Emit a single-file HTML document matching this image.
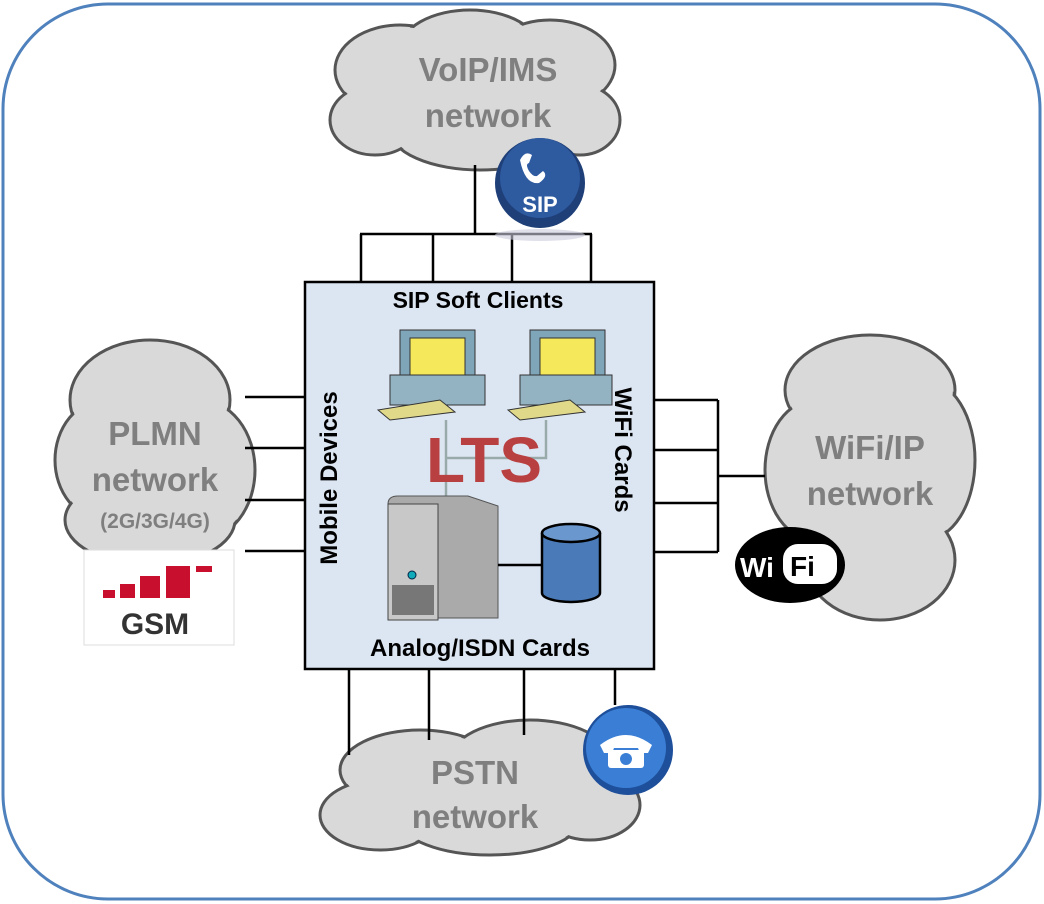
<!DOCTYPE html>
<html><head><style>
body{margin:0;background:#fff}
svg{display:block}
text{font-family:"Liberation Sans",sans-serif;font-weight:bold}
</style></head><body>
<svg width="1044" height="904" viewBox="0 0 1044 904" xmlns="http://www.w3.org/2000/svg">
<rect x="3" y="4" width="1037" height="895" rx="105" fill="#fff" stroke="#4f81bd" stroke-width="3"/>

<g stroke="#555" stroke-width="3" fill="#d9d9d9">
 <ellipse cx="400" cy="70" rx="65" ry="45"/><ellipse cx="470" cy="50" rx="70" ry="40"/><ellipse cx="550" cy="65" rx="65" ry="45"/><ellipse cx="580" cy="120" rx="40" ry="35"/><ellipse cx="480" cy="130" rx="90" ry="40"/><ellipse cx="375" cy="120" rx="45" ry="35"/>
 <ellipse cx="150" cy="400" rx="80" ry="60"/><ellipse cx="105" cy="460" rx="50" ry="60"/><ellipse cx="200" cy="470" rx="55" ry="70"/><ellipse cx="150" cy="520" rx="85" ry="45"/>
 <ellipse cx="870" cy="390" rx="85" ry="55"/><ellipse cx="815" cy="470" rx="50" ry="70"/><ellipse cx="925" cy="460" rx="50" ry="80"/><ellipse cx="880" cy="560" rx="75" ry="60"/>
 <ellipse cx="420" cy="770" rx="80" ry="40"/><ellipse cx="530" cy="760" rx="80" ry="40"/><ellipse cx="380" cy="815" rx="60" ry="35"/><ellipse cx="490" cy="820" rx="90" ry="35"/><ellipse cx="590" cy="805" rx="50" ry="35"/>
</g>
<g fill="#d9d9d9">
 <ellipse cx="400" cy="70" rx="63" ry="43"/><ellipse cx="470" cy="50" rx="68" ry="38"/><ellipse cx="550" cy="65" rx="63" ry="43"/><ellipse cx="580" cy="120" rx="38" ry="33"/><ellipse cx="480" cy="130" rx="88" ry="38"/><ellipse cx="375" cy="120" rx="43" ry="33"/><rect x="380" y="60" width="190" height="80"/>
 <ellipse cx="150" cy="400" rx="78" ry="58"/><ellipse cx="105" cy="460" rx="48" ry="58"/><ellipse cx="200" cy="470" rx="53" ry="68"/><ellipse cx="150" cy="520" rx="83" ry="43"/><rect x="90" y="400" width="130" height="120"/>
 <ellipse cx="870" cy="390" rx="83" ry="53"/><ellipse cx="815" cy="470" rx="48" ry="68"/><ellipse cx="925" cy="460" rx="48" ry="78"/><ellipse cx="880" cy="560" rx="73" ry="58"/><rect x="810" y="400" width="120" height="160"/>
 <ellipse cx="420" cy="770" rx="78" ry="38"/><ellipse cx="530" cy="760" rx="78" ry="38"/><ellipse cx="380" cy="815" rx="58" ry="33"/><ellipse cx="490" cy="820" rx="88" ry="33"/><ellipse cx="590" cy="805" rx="48" ry="33"/><rect x="380" y="770" width="200" height="50"/>
</g>

<g fill="#7f7f7f" text-anchor="middle" font-size="33">
 <text x="488" y="81">VoIP/IMS</text><text x="488" y="127">network</text>
 <text x="155" y="445">PLMN</text><text x="155" y="491">network</text>
 <text x="155" y="528" font-size="21">(2G/3G/4G)</text>
 <text x="870" y="459">WiFi/IP</text><text x="870" y="505">network</text>
 <text x="475" y="784">PSTN</text><text x="475" y="828">network</text>
</g>

<g stroke="#000" stroke-width="2.5" fill="none">
 <path d="M475 165V234M360 234H592M361 234V282M433 234V282M512 234V282M591 234V282"/>
 <path d="M245 397H305M245 448H305M245 500H305M245 551H305"/>
 <path d="M654 400H718M654 450H718M654 503H718M654 552H718M718 400V552M718 476H765"/>
 <path d="M349 669V755M429 669V740M524 669V735M615 669V705"/>
</g>

<ellipse cx="540" cy="235" rx="45" ry="6" fill="#ccd" opacity="0.6"/>
<circle cx="540" cy="183" r="45" fill="#1f3f78"/>
<circle cx="540" cy="178" r="40" fill="#2e5aa0"/>
<text x="540" y="212" font-size="22" fill="#fff" text-anchor="middle">SIP</text>
<path d="M520 160 q5 -10 12 -5 l-3 8 q-4 1 0 8 q4 6 8 5 l6 -5 q6 5 -4 12 q-14 2 -19 -23z" fill="#fff"/>

<rect x="305" y="282" width="349" height="387" fill="#dce6f2" stroke="#000" stroke-width="2.5"/>
<text x="478" y="308" font-size="23" text-anchor="middle" fill="#000">SIP Soft Clients</text>
<text x="480" y="656" font-size="24" text-anchor="middle" fill="#000">Analog/ISDN Cards</text>
<text transform="translate(337 478) rotate(-90)" font-size="24" text-anchor="middle" fill="#000">Mobile Devices</text>
<text transform="translate(615 450) rotate(90)" font-size="24" text-anchor="middle" fill="#000">WiFi Cards</text>

<path d="M446 420V500M446 458H546V420" stroke="#9aa" stroke-width="2.5" fill="none"/>
<g>
 <rect x="400" y="330" width="75" height="60" fill="#7fa5b8" stroke="#333"/>
 <rect x="410" y="338" width="55" height="43" fill="#f5e85a" stroke="#333"/>
 <rect x="390" y="375" width="95" height="30" fill="#93b3c3" stroke="#333"/>
 <polygon points="378,410 440,400 455,412 390,420" fill="#e0d98a" stroke="#333"/>
 <rect x="530" y="330" width="75" height="60" fill="#7fa5b8" stroke="#333"/>
 <rect x="540" y="338" width="55" height="43" fill="#f5e85a" stroke="#333"/>
 <rect x="520" y="375" width="92" height="30" fill="#93b3c3" stroke="#333"/>
 <polygon points="508,410 570,400 585,412 520,420" fill="#e0d98a" stroke="#333"/>
</g>
<text x="484" y="482" font-size="64" text-anchor="middle" fill="#b94040">LTS</text>
<path d="M388 504 q0 -8 10 -8 h70 l30 10 v112 h-110z" fill="#aaa" stroke="#555"/>
<rect x="388" y="504" width="50" height="116" fill="#c8c8c8" stroke="#444"/>
<circle cx="412" cy="575" r="4" fill="#1ab" stroke="#024"/>
<rect x="392" y="585" width="42" height="30" fill="#777"/>
<path d="M498 565H542" stroke="#000" stroke-width="2.5"/>
<path d="M542 533 v60 a29 9 0 0 0 58 0 v-60" fill="#4a7ab8" stroke="#000" stroke-width="2.5"/>
<ellipse cx="571" cy="533" rx="29" ry="9" fill="#6b97cf" stroke="#000" stroke-width="2.5"/>

<rect x="84" y="550" width="150" height="95" fill="#fff" stroke="#ddd"/>
<g fill="#c8102e">
 <rect x="103" y="590" width="12" height="8"/><rect x="120" y="584" width="15" height="14"/><rect x="140" y="576" width="20" height="22"/><rect x="166" y="566" width="24" height="32"/><rect x="196" y="566" width="16" height="6"/>
</g>
<text x="155" y="634" font-size="30" text-anchor="middle" fill="#333" font-family="Liberation Mono">GSM</text>

<ellipse cx="790" cy="565" rx="55" ry="38" fill="#000"/>
<text x="740" y="577" font-size="28" fill="#fff">Wi</text>
<rect x="783" y="544" width="54" height="40" rx="15" fill="#fff"/>
<text x="790" y="576" font-size="28" fill="#000">Fi</text>

<circle cx="628" cy="750" r="45" fill="#1e4f9a"/>
<circle cx="626" cy="748" r="40" fill="#3a7fd5"/>
<path d="M600 745 q26 -20 52 0 l-4 8 h-8 l-2 -5 h-24 l-2 5 h-8z" fill="#fff"/>
<rect x="608" y="750" width="36" height="18" rx="3" fill="#fff"/>
<circle cx="626" cy="759" r="6" fill="#3a7fd5"/>
</svg>
</body></html>
